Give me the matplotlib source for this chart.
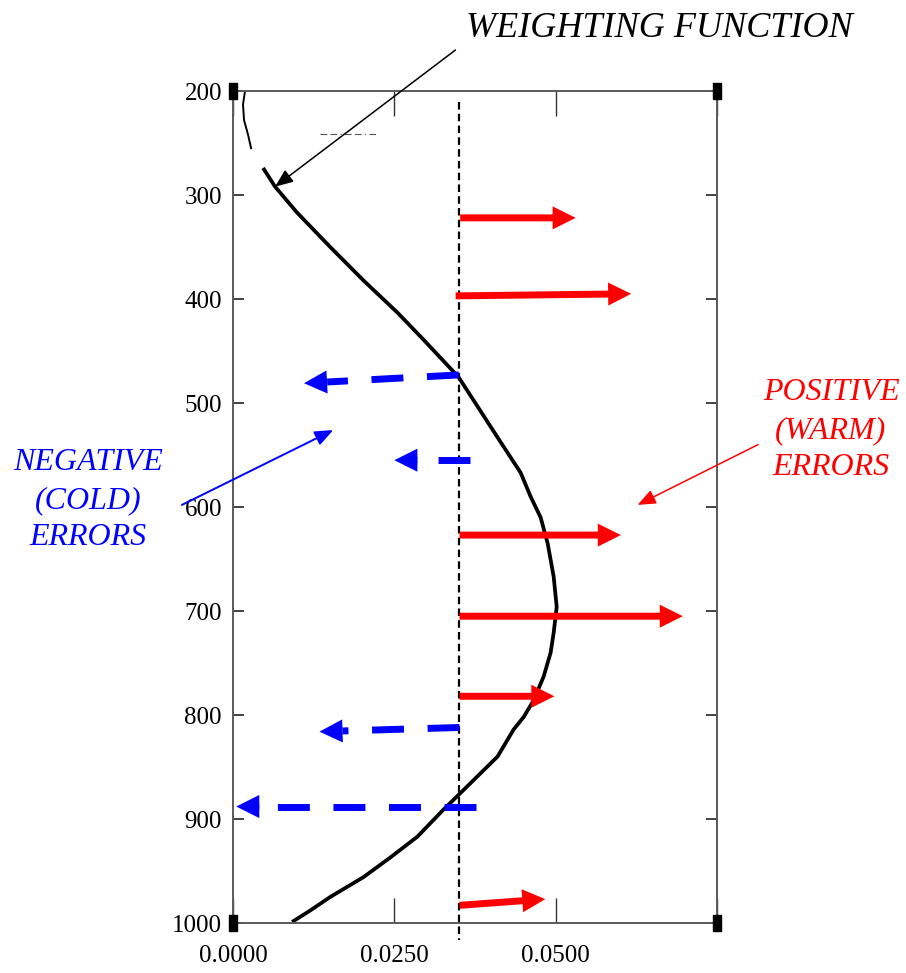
#!/usr/bin/env python3

import matplotlib
matplotlib.use('Agg')
import matplotlib.pyplot as plt

# weighting function, upper thin piece and main curve (value, pressure hPa)
wf_top_x = [0.00186, 0.00155, 0.00171, 0.00233, 0.00280]
wf_top_p = [200, 213, 228, 242, 255]

wf_x = [0.00466, 0.00652, 0.00994, 0.01506, 0.02019, 0.02547, 0.02935,
        0.03494, 0.04099, 0.04457, 0.04612, 0.04767, 0.04876, 0.04969,
        0.05016, 0.04969, 0.04922, 0.04814, 0.04658, 0.04503, 0.04348,
        0.04099, 0.03525, 0.03261, 0.02857, 0.02438, 0.02019, 0.01506,
        0.01196, 0.00916]
wf_p = [274, 292, 317, 350, 382, 413, 438,
        475, 533, 567, 590, 610, 635, 667,
        696, 721, 740, 763, 786, 802, 814,
        840, 875, 891, 917, 937, 956, 975,
        988, 999]

ref_x = 0.035

# warm errors: arrows to the right
warm_x0 = [0.0352, 0.0345, 0.0351, 0.0351, 0.0351, 0.0351]
warm_p0 = [322, 397, 627, 705, 782, 983]
warm_x1 = [0.0531, 0.0617, 0.0601, 0.0697, 0.0498, 0.0484]
warm_p1 = [322, 395, 627, 705, 782, 977]

# cold errors: dashed arrows to the left
cold_x0 = [0.0350, 0.0367, 0.0351, 0.0376]
cold_p0 = [473, 555, 812, 888]
cold_x1 = [0.0110, 0.0250, 0.0134, 0.0005]
cold_p1 = [481, 555, 816, 888]

x_ticks = [0.0, 0.025, 0.05, 0.075]
x_labels = ['0.0000', '0.0250', '0.0500', '']
p_ticks = [200, 300, 400, 500, 600, 700, 800, 900, 1000]

RED = '#ff0000'
BLUE = '#0000ff'
SERIF = 'Liberation Serif'


def main():
    fig = plt.figure(figsize=(9.06, 9.73), dpi=100)
    W, H = 906.0, 973.0
    ax = fig.add_axes([233 / W, 1 - 923 / H, 484 / W, 832 / H])
    ax.set_xlim(0, 0.075)
    ax.set_ylim(1000, 200)

    for s in ax.spines.values():
        s.set_color('#5a5a5a')
        s.set_linewidth(1.4)

    ax.set_xticks(x_ticks)
    ax.set_xticklabels(x_labels)
    ax.set_yticks(p_ticks)
    ax.tick_params(axis='x', direction='in', length=18, width=1.0,
                   top=True, pad=16, colors='#333333', labelcolor='black')
    ax.tick_params(axis='y', direction='in', length=8, width=1.2,
                   right=True, pad=8, colors='#222222', labelcolor='black')
    for lab in ax.get_xticklabels() + ax.get_yticklabels():
        lab.set_fontfamily(SERIF)
        lab.set_fontsize(18)

    # corner marks
    box = [(-0.28, -0.5), (0.28, -0.5), (0.28, 0.5), (-0.28, 0.5), (-0.28, -0.5)]
    ax.plot([0, 1, 0, 1], [0, 0, 1, 1], transform=ax.transAxes, ls='none',
            marker=box, ms=11.5, color='black', clip_on=False, zorder=6)

    # weighting function
    ax.plot(wf_top_x, wf_top_p, color='black', lw=1.4)
    ax.plot(wf_x, wf_p, color='black', lw=2.7, solid_capstyle='butt',
            solid_joinstyle='round')
    ax.plot([0.0135, 0.0224], [241, 241], color='#555555', lw=0.8,
            dashes=(6, 3, 6, 3, 1, 3))

    # reference line
    ax.plot([ref_x, ref_x], [211, 1016], color='black', lw=1.6,
            dashes=(3.4, 1.9), clip_on=False)

    head = 'simple,head_length=1.66,head_width=1.66,tail_width=0.5'
    for x0, p0, x1, p1 in zip(warm_x0, warm_p0, warm_x1, warm_p1):
        ax.annotate('', xy=(x1, p1), xytext=(x0, p0),
                    arrowprops=dict(arrowstyle=head, mutation_scale=10,
                                    fc=RED, ec='none', lw=0,
                                    shrinkA=0, shrinkB=0), zorder=4)

    hl = 0.0036
    for x0, p0, x1, p1 in zip(cold_x0, cold_p0, cold_x1, cold_p1):
        f = hl / (x0 - x1)
        bx = x1 + hl
        bp = p1 + (p0 - p1) * f
        ax.plot([x0, bx], [p0, bp], color=BLUE, lw=5,
                dashes=(4.6, 3.4), dash_capstyle='butt', zorder=4)
        ax.annotate('', xy=(x1, p1), xytext=(bx, bp),
                    arrowprops=dict(arrowstyle=head, mutation_scale=10,
                                    fc=BLUE, ec='none', lw=0,
                                    shrinkA=0, shrinkB=0), zorder=4)

    # labels with pointers
    fig.text(659 / W, 1 - 37 / H, 'WEIGHTING FUNCTION', family=SERIF,
             style='italic', fontsize=26, ha='center', va='baseline')
    ax.annotate('', xy=(0.00652, 292), xytext=(0.03447, 160.6),
                annotation_clip=False,
                arrowprops=dict(arrowstyle='-|>,head_length=1.1,head_width=0.45',
                                mutation_scale=10, color='black', lw=1.1,
                                shrinkA=0, shrinkB=0))

    for txt, yb in zip(['NEGATIVE', '(COLD)', 'ERRORS'], [470, 508, 545]):
        fig.text(88 / W, 1 - yb / H, txt, family=SERIF, style='italic',
                 fontsize=23, color=BLUE, ha='center', va='baseline')
    ax.annotate('', xy=(0.01553, 526), xytext=(-0.00792, 598),
                annotation_clip=False,
                arrowprops=dict(arrowstyle='-|>,head_length=1.1,head_width=0.45',
                                mutation_scale=10, color=BLUE, lw=1.4,
                                shrinkA=0, shrinkB=0))

    for txt, yb in zip(['POSITIVE', '(WARM)', 'ERRORS'], [400, 438, 475]):
        fig.text(831 / W, 1 - yb / H, txt, family=SERIF, style='italic',
                 fontsize=23, color=RED, ha='center', va='baseline')
    ax.annotate('', xy=(0.0627, 598), xytext=(0.08137, 540),
                annotation_clip=False,
                arrowprops=dict(arrowstyle='-|>,head_length=1.1,head_width=0.45',
                                mutation_scale=10, color=RED, lw=1.1,
                                shrinkA=0, shrinkB=0))

    fig.savefig('out.png', dpi=100)


if __name__ == '__main__':
    main()
